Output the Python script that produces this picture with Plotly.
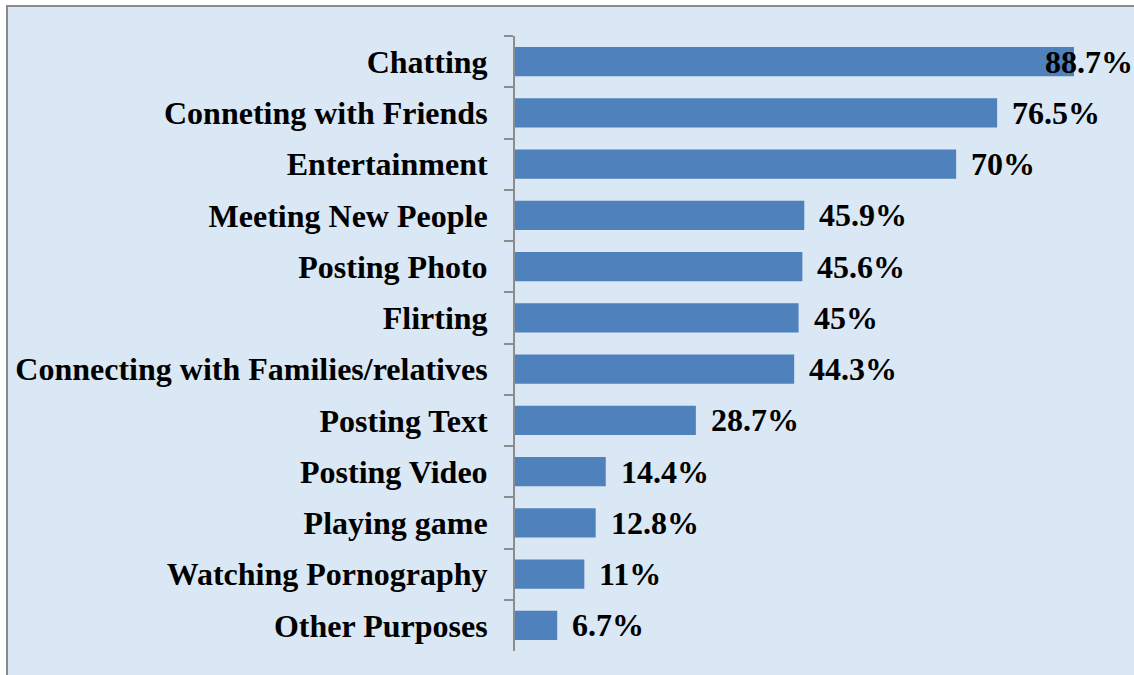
import plotly.graph_objects as go

# Purposes of social media use (percent of respondents)
categories = [
    "Chatting",
    "Conneting with Friends",
    "Entertainment",
    "Meeting New People",
    "Posting Photo",
    "Flirting",
    "Connecting with Families/relatives",
    "Posting Text",
    "Posting Video",
    "Playing game",
    "Watching Pornography",
    "Other Purposes",
]
values = [88.7, 76.5, 70, 45.9, 45.6, 45, 44.3, 28.7, 14.4, 12.8, 11, 6.7]
value_labels = ["88.7%", "76.5%", "70%", "45.9%", "45.6%", "45%", "44.3%",
                "28.7%", "14.4%", "12.8%", "11%", "6.7%"]

W, H = 1134, 675
FONT = "Liberation Serif, Times New Roman, serif"
FS = 32
BAR = "#4F81BD"
AXIS = "#8C8C8C"

fig = go.Figure(go.Bar(
    x=values,
    y=categories,
    orientation="h",
    marker=dict(color=BAR, line=dict(width=0)),
    width=0.566,
    hoverinfo="skip",
))

# value labels beside each bar; the longest is pulled back so it stays in frame
annotations = []
for cat, v, lab in zip(categories, values, value_labels):
    if v > 85:
        annotations.append(dict(x=v, y=cat, text=f"<b>{lab}</b>", showarrow=False,
                                xanchor="right", xshift=61,
                                font=dict(family=FONT, size=FS, color="black")))
    else:
        annotations.append(dict(x=v, y=cat, text=f"<b>{lab}</b>", showarrow=False,
                                xanchor="left", xshift=13,
                                font=dict(family=FONT, size=FS, color="black")))

x0_px, plot_top, plot_bot = 515, 36, 651
px_per_pct = (1074 - x0_px) / 88.7

fig.update_layout(
    width=W, height=H,
    margin=dict(l=0, r=0, t=0, b=0),
    paper_bgcolor="white",
    plot_bgcolor="rgba(0,0,0,0)",
    showlegend=False,
    annotations=annotations,
    shapes=[dict(type="rect", xref="paper", yref="paper",
                 x0=7 / W, x1=1.05, y0=-0.05, y1=(H - 6) / H,
                 fillcolor="#DAE7F4", line=dict(color="#8A8A8A", width=2),
                 layer="below")],
    xaxis=dict(
        domain=[x0_px / W, 1],
        range=[0, (W - x0_px) / px_per_pct],
        visible=False,
        fixedrange=True,
    ),
    yaxis=dict(
        domain=[(H - plot_bot) / H, (H - plot_top) / H],
        autorange="reversed",
        type="category",
        showline=True, linecolor=AXIS, linewidth=2,
        ticks="outside", ticklen=9, tickcolor=AXIS, tickwidth=2,
        tickson="boundaries",
        showgrid=False,
        ticklabelstandoff=19,
        tickfont=dict(family=FONT, size=FS, color="black", weight="bold"),
        fixedrange=True,
    ),
)

fig.write_html("out.html")
